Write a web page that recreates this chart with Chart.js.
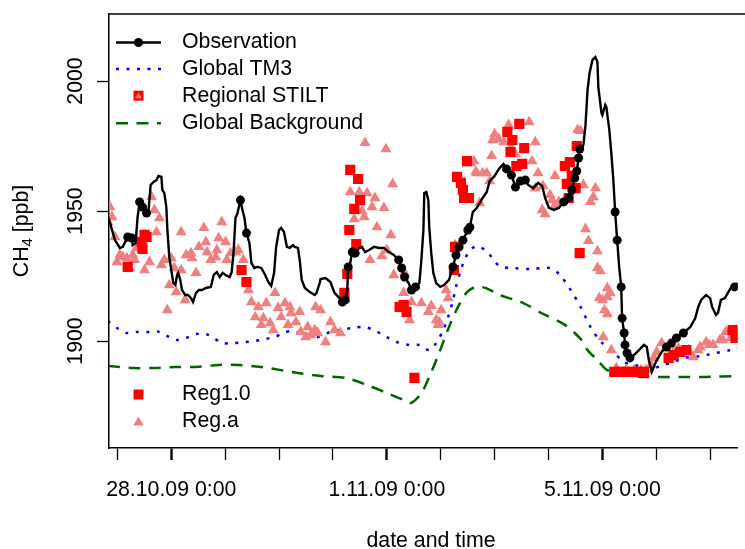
<!DOCTYPE html>
<html>
<head>
<meta charset="utf-8">
<script src="https://cdn.jsdelivr.net/npm/chart.js@4/dist/chart.umd.min.js"></script>
<style>
  html, body { margin: 0; padding: 0; background: #fff; overflow: hidden; }
  canvas { display: block; }
</style>
</head>
<body>
<canvas id="ch4" width="745" height="549"></canvas>
<script>
// Time is given in hours since 28.10.09 0:00, CH4 in ppb.

// Observed mixing ratio (continuous record)
const obsHours = [-28.2,-27.3,-25.1,-22.9,-21.6,-19.4,-17.6,-17.2,-15.9,-15.0,-14.1,-12.8,-11.0,-10.1,-9.2,-7.9,-6.6,-5.7,-4.4,-4.0,-3.1,-2.2,-1.8,-0.9,
  0,0.9,1.8,2.6,3.1,4.0,4.8,6.2,7.5,8.8,9.7,11.0,12.3,13.7,15.4,17.6,18.9,20.3,21.6,22.9,24.2,26.0,26.9,27.7,28.6,29.5,30.8,31.7,32.6,33.5,34.8,35.7,
  37.0,38.3,40.1,41.8,43.2,44.5,45.8,46.7,48.0,48.9,50.2,51.5,52.8,54.2,55.0,56.4,57.2,58.1,59.5,61.7,63.9,64.7,66.1,66.5,68.7,70.9,72.7,74.9,
  76.2,77.5,78.4,78.8,79.7,80.6,81.9,83.7,85.0,86.3,88.1,90.3,92.5,94.7,96.9,99.1,101.3,102.6,103.9,105.7,107.0,108.8,110.5,111.4,112.3,112.7,
  113.6,114.5,114.9,115.8,116.7,118.0,119.8,121.5,123.7,125.5,126.8,128.2,129.9,132.1,133.0,134.3,136.1,137.4,138.7,140.5,141.8,144.0,146.2,
  148.0,149.3,151.5,153.3,155.5,157.7,159.0,161.2,163.4,165.2,166.5,168.2,170.4,172.6,174.8,177.0,178.4,179.7,180.6,181.4,181.9,182.8,183.6,
  184.5,185.4,186.3,187.6,188.9,189.8,190.2,191.6,192.0,193.3,193.8,195.1,196.0,196.9,197.7,198.6,199.5,200.4,200.8,201.7,202.1,203.0,204.3,
  206.1,208.3,210.5,211.8,212.7,214.0,215.8,218.4,220.6,222.8,225.0,228.1,231.2,233.4,234.7,236.0,238.2,240.0,240.9,242.6,243.5,244.8,246.6,
  247.9,249.2,250.9,252.3];
const obsPpb = [1948,1945.4,1938.8,1935.8,1936.2,1940.0,1939.6,1936.9,1937.7,1947.7,1953.5,1951.5,1949.2,1950.4,1960.0,1961.2,1961.9,1963.5,1963.1,1958.1,1956.9,1951.5,1943.8,1932.3,
  1927.3,1922.3,1921.5,1925.4,1926.2,1923.5,1919.6,1917.7,1917.7,1916.5,1915.0,1918.5,1919.6,1919.6,1920.4,1920.8,1925.4,1926.5,1924.6,1926.2,1925.4,1924.6,1926.5,1933.8,1947.3,1949.2,1954.2,1950.4,1947.3,1941.5,1937.7,1930.0,
  1928.1,1928.5,1928.1,1925.4,1922.7,1921.2,1926.2,1936.2,1942.7,1943.5,1941.9,1936.2,1935.8,1936.9,1936.2,1935.8,1931.2,1923.5,1920.4,1918.8,1917.7,1918.5,1922.3,1923.8,1924.2,1922.7,1918.5,1916.5,
  1915.0,1915.8,1919.6,1928.5,1930.0,1934.2,1933.8,1935.8,1936.2,1934.2,1935.0,1936.2,1935.8,1935.8,1934.2,1933.1,1931.2,1928.1,1924.6,1922.3,1919.6,1920.8,1922.3,1931.2,1942.7,1956.9,
  1957.3,1954.2,1943.8,1933.8,1926.2,1922.3,1920.8,1921.5,1923.5,1928.5,1933.1,1936.2,1938.8,1942.7,1943.8,1949.6,1951.2,1953.1,1955.0,1957.3,1961.5,1963.5,1966.5,
  1968.1,1966.2,1963.8,1959.2,1961.5,1961.9,1960.0,1958.8,1960.8,1959.6,1955.0,1951.2,1950.4,1951.2,1953.5,1955.0,1958.1,1962.7,1965.4,1970.4,1973.8,1973.1,1975.8,
  1983.1,1996.5,2003.1,2008.1,2009.2,2007.3,1997.7,1987.7,1986.9,1990.8,1990.0,1981.2,1972.3,1961.9,1949.6,1938.8,1928.5,1920.8,1908.8,1903.1,1898.5,1895.4,1893.5,
  1894.6,1896.5,1898.5,1897.7,1892.7,1888.1,1891.9,1895.8,1897.7,1899.2,1901.2,1903.1,1905.4,1908.8,1913.1,1915.8,1917.7,1916.5,1913.1,1910.0,1910.8,1915.8,1916.5,
  1918.5,1920.4,1920.8,1922.3];
// Observation times marked with a dot
const obsMarkedHours = [-19.4,-17.6,-14.1,-12.8,-11.0,30.8,33.5,76.2,77.5,78.8,80.6,81.9,101.3,102.6,103.9,107.0,108.8,
  125.5,126.8,128.2,129.9,132.1,133.0,149.3,151.5,153.3,155.5,157.7,174.8,177.0,178.4,179.7,180.6,181.4,181.9,
  197.7,198.6,200.4,200.8,201.7,202.1,203.0,204.3,220.6,222.8,225.0,228.1,250.9];

// Global TM3 model
const tm3Hours = [-28.2,-24.2,-19.8,-15.4,-9.7,-5.3,-0.9,2.2,6.6,11.0,15.4,18.9,22.5,26.9,33.0,37.4,41.8,46.2,49.8,53.3,56.4,60.8,65.2,70.9,
  80.6,85.9,90.3,96.0,100.4,106.1,110.5,114.9,118.0,121.1,123.3,125.5,126.8,129.0,131.2,134.3,136.5,139.6,142.7,146.2,152.4,159.9,168.7,
  173.1,177.9,182.3,186.7,191.1,197.3,201.7,206.1,210.5,214.9,219.3,223.7,228.1,232.5,238.2,242.6,248.8,252.3];
const tm3Ppb = [1907.7,1905.0,1903.1,1903.5,1903.5,1903.5,1901.5,1900.4,1901.2,1902.7,1902.7,1901.2,1899.2,1899.2,1899.6,1900.0,1900.8,1901.5,1903.1,1903.8,1903.5,1902.3,1901.5,1903.5,
  1905.0,1905.4,1904.2,1901.5,1899.6,1898.5,1898.5,1896.5,1899.2,1904.2,1909.2,1915.8,1920.8,1927.3,1932.3,1935.8,1936.5,1935.0,1932.3,1928.8,1928.1,1927.7,1928.1,
  1925.4,1919.6,1913.1,1905.4,1900.0,1895.4,1891.9,1890.8,1890.0,1889.6,1890.8,1891.9,1893.5,1893.8,1894.6,1895.4,1896.5,1897.3];

// Global background
const bgHours = [-28.2,-17.2,-8.4,2.2,11.0,21.1,29.9,40.1,48.9,56.4,66.5,77.5,87.2,96.0,104.8,107.0,111.4,114.9,119.3,123.7,127.7,131.7,
  135.6,140.0,146.2,156.8,165.6,174.8,182.3,185.4,189.8,194.2,201.7,209.2,218.0,226.8,238.2,252.3];
const bgPpb = [1890.4,1889.6,1889.6,1890.0,1890.0,1890.8,1890.8,1890.0,1888.8,1887.7,1886.5,1885.8,1883.1,1880.0,1876.9,1876.2,1880.0,1886.2,1895.4,1905.4,1913.1,1918.8,
  1920.8,1920.4,1917.7,1914.6,1910.4,1906.5,1900.8,1896.5,1892.7,1888.8,1887.3,1886.2,1886.2,1886.2,1886.2,1886.5];

// Regional STILT, Reg1.0
const reg10Hours = [-19.4,-13.2,-12.8,-11.9,-11.0,31.3,33.5,77.1,78.4,79.3,82.4,81.5,84.1,79.7,83.2,101.7,103.5,104.8,108.3,
  125.9,126.4,127.3,129.0,129.9,130.4,132.6,131.7,149.7,151.9,155.0,157.2,151.1,153.7,156.3,175.3,177.5,178.4,176.2,180.1,177.0,180.6,181.9,
  197.3,199.9,202.5,205.2,207.9,210.5,221.5,223.7,226.8,229.4,250.0,251.3];
const reg10Ppb = [1928.5,1938.1,1935.4,1940.8,1940.0,1927.3,1922.7,1918.5,1925.8,1942.7,1937.3,1950.8,1954.2,1965.8,1962.3,1913.1,1913.8,1911.2,1885.8,
  1927.3,1936.2,1963.1,1960.8,1958.1,1955.0,1955.0,1969.2,1980.4,1977.3,1983.5,1974.2,1972.7,1967.3,1968.1,1967.3,1968.8,1963.5,1960.4,1958.8,1955.0,1975.0,1933.8,
  1888.1,1888.1,1888.1,1888.1,1888.1,1888.1,1893.5,1894.6,1895.8,1896.5,1904.2,1901.2];

// Regional STILT, Reg.a
const regaHours = [-27.3,-26.4,-25.1,-22.9,-21.6,-19.8,-17.2,-15.4,-16.3,-8.8,-7.5,-5.3,-6.6,-3.1,-0.9,-1.8,0,1.3,4.4,2.2,4.4,6.6,8.8,9.2,
  11.0,12.3,14.5,15.4,15.9,17.6,19.8,20.3,21.1,22.5,24.2,24.7,26.4,28.6,29.9,32.1,34.4,35.7,37.4,38.8,40.1,42.3,44.0,46.2,47.6,48.9,
  50.6,52.8,53.3,55.5,57.2,57.7,59.9,62.1,63.9,64.3,-28.2,-24.2,-18.5,-11.9,-9.7,-4.4,6.2,41.0,45.4,52.0,66.5,68.7,70.9,72.7,75.3,60.8,65.2,
  86.3,95.6,98.6,79.7,83.7,87.2,90.7,89.4,94.7,85.0,85.9,81.5,91.6,97.8,96.0,93.8,88.5,99.1,103.9,107.0,111.4,115.8,120.2,114.5,118.0,119.3,
  122.4,123.3,106.1,103.5,126.4,118.9,
  134.8,136.1,140.5,141.8,137.4,142.7,144.0,145.8,148.0,150.2,151.1,153.3,159.4,162.1,160.7,163.4,165.6,162.1,170.9,168.7,165.2,166.5,169.6,
  170.9,172.6,182.3,183.6,188.9,188.0,186.7,184.5,185.8,189.8,191.1,195.5,194.2,192.0,194.2,192.4,133.4,135.6,138.7,143.1,
  181.0,189.8,194.2,190.6,192.9,196.0,198.2,209.2,211.4,213.6,214.9,216.2,218.4,223.7,228.1,232.5,235.6,238.2,241.3,244.4,247.0,249.2,251.5,
  202.5,206.1,220.2,225.9,230.3,234.7,239.6,245.7];
const regaPpb = [1951.5,1947.7,1940.0,1933.1,1932.3,1931.9,1933.1,1935.8,1931.2,1955.4,1950.4,1947.3,1941.9,1931.2,1921.5,1911.9,1931.9,1928.1,1927.3,1918.8,1941.9,1933.1,1933.8,1931.9,
  1926.2,1936.2,1943.5,1938.1,1934.2,1931.2,1932.3,1935.0,1939.6,1945.8,1938.1,1931.2,1933.8,1934.2,1935.0,1931.2,1919.6,1915.0,1909.2,1913.1,1906.2,1914.6,1906.9,1918.5,1912.7,1909.2,
  1914.6,1913.1,1910.8,1907.3,1911.2,1903.5,1901.5,1902.3,1904.2,1913.1,1945.8,1930.4,1928.1,1927.3,1930.4,1929.2,1915.8,1908.8,1904.2,1906.2,1911.9,1899.6,1907.3,1904.2,1903.1,1905.4,1903.1,
  1976.2,1973.8,1960.4,1957.3,1957.3,1956.9,1955.0,1951.5,1951.2,1950.0,1947.7,1946.9,1943.8,1940.8,1935.0,1932.7,1931.2,1925.4,1926.2,1915.0,1914.6,1913.5,1911.9,1911.2,1908.1,1907.3,
  1919.6,1916.5,1908.1,1918.5,1936.9,1906.2,
  1969.2,1964.6,1964.6,1961.5,1953.1,1971.2,1979.6,1977.7,1976.5,1983.1,1974.6,1971.9,1984.2,1976.5,1969.2,1964.6,1959.6,1958.8,1963.5,1956.2,1950.4,1948.8,1954.2,
  1952.3,1953.5,1980.8,1960.0,1958.8,1955.4,1953.5,1943.1,1938.5,1934.6,1926.9,1918.5,1916.9,1915.8,1910.4,1901.5,1968.4,1965.0,1964.6,1977.3,
  1981.2,1928.1,1920.4,1916.5,1911.9,1896.5,1889.6,1888.8,1888.8,1890.8,1893.5,1895.8,1899.2,1895.8,1895.8,1893.8,1897.7,1899.6,1898.5,1900.4,1903.5,1901.2,1904.2,
  1888.8,1888.8,1897.3,1897.3,1896.5,1896.5,1898.5,1900.4];

// Axis ticks
const dayTickHours = [-24, 0, 24, 48, 72, 96, 120, 144, 168, 192, 216, 240];
const labelledHours = [0, 96, 192];
const labelledText = ['28.10.09 0:00', '1.11.09 0:00', '5.11.09 0:00'];
const yTickValues = [1900, 1950, 2000];

const legendTopLabels = ['Observation', 'Global TM3', 'Regional STILT', 'Global Background'];
const legendBottomLabels = ['Reg1.0', 'Reg.a'];

const FONT = '"Liberation Sans", Arial, sans-serif';
const FS = 21.3;
const COL = {
  obs: '#000000',
  tm3: '#0000ff',
  bg: '#006400',
  reg10: '#ff0000',
  rega: '#f08080'
};

const pairs = (xs, ys) => xs.map((x, i) => ({ x: x, y: ys[i] }));
const obsMarked = obsMarkedHours.map(h => ({ x: h, y: obsPpb[obsHours.indexOf(h)] }));

// small helpers for the hand-drawn legend symbols
function drawTriangle(ctx, x, y, r) {
  ctx.beginPath();
  for (let k = 0; k < 3; k++) {
    const a = k * 2 * Math.PI / 3;
    const px = x + Math.sin(a) * r, py = y - Math.cos(a) * r;
    if (k === 0) ctx.moveTo(px, py); else ctx.lineTo(px, py);
  }
  ctx.closePath();
  ctx.fill();
}

const decorations = {
  id: 'decorations',
  afterDraw(chart) {
    const ctx = chart.ctx;
    const area = chart.chartArea;
    const ys = chart.scales.y;
    ctx.save();

    // top edge of the plot box
    ctx.strokeStyle = '#000';
    ctx.lineWidth = 1.5;
    ctx.beginPath();
    ctx.moveTo(area.left - 0.75, area.top);
    ctx.lineTo(chart.width, area.top);
    ctx.stroke();

    ctx.fillStyle = '#000';
    // y tick labels, written vertically
    ctx.font = FS + 'px ' + FONT;
    ctx.textAlign = 'center';
    ctx.textBaseline = 'alphabetic';
    yTickValues.forEach(v => {
      ctx.save();
      ctx.translate(82, ys.getPixelForValue(v));
      ctx.rotate(-Math.PI / 2);
      ctx.fillText(String(v), 0, 0);
      ctx.restore();
    });

    // y axis title with subscript
    ctx.save();
    ctx.translate(27.5, (area.top + area.bottom) / 2);
    ctx.rotate(-Math.PI / 2);
    ctx.textAlign = 'left';
    const big = FS + 'px ' + FONT, small = '15px ' + FONT;
    ctx.font = big; const w1 = ctx.measureText('CH').width;
    ctx.font = small; const w2 = ctx.measureText('4').width;
    ctx.font = big; const w3 = ctx.measureText(' [ppb]').width;
    let sx = -(w1 + w2 + w3) / 2;
    ctx.font = big; ctx.fillText('CH', sx, 0);
    ctx.font = small; ctx.fillText('4', sx + w1, 4);
    ctx.font = big; ctx.fillText(' [ppb]', sx + w1 + w2, 0);
    ctx.restore();

    // x axis title
    ctx.font = FS + 'px ' + FONT;
    ctx.textAlign = 'center';
    ctx.textBaseline = 'alphabetic';
    ctx.fillText('date and time', 431, 547);

    // upper legend
    ctx.textAlign = 'left';
    ctx.textBaseline = 'middle';
    const topY = [42.5, 69, 95.7, 123.3];
    const lx0 = 116, lx1 = 161, lxm = 138.5, tx = 182;
    // Observation
    ctx.strokeStyle = COL.obs; ctx.lineWidth = 2.4; ctx.setLineDash([]);
    ctx.beginPath(); ctx.moveTo(lx0, topY[0]); ctx.lineTo(lx1, topY[0]); ctx.stroke();
    ctx.fillStyle = COL.obs;
    ctx.beginPath(); ctx.arc(lxm, topY[0], 4.5, 0, 2 * Math.PI); ctx.fill();
    // Global TM3
    ctx.strokeStyle = COL.tm3; ctx.lineWidth = 2.5; ctx.setLineDash([3, 7.5]);
    ctx.beginPath(); ctx.moveTo(lx0, topY[1]); ctx.lineTo(lx1 + 2, topY[1]); ctx.stroke();
    // Regional STILT
    ctx.setLineDash([]);
    ctx.fillStyle = COL.reg10; ctx.fillRect(lxm - 5, topY[2] - 5, 10, 10);
    ctx.fillStyle = COL.rega; drawTriangle(ctx, lxm, topY[2] + 0.5, 4);
    // Global Background
    ctx.strokeStyle = COL.bg; ctx.lineWidth = 2.5; ctx.setLineDash([12, 8.5]);
    ctx.beginPath(); ctx.moveTo(lx0, topY[3]); ctx.lineTo(lx1, topY[3]); ctx.stroke();
    ctx.setLineDash([]);
    ctx.fillStyle = '#000';
    legendTopLabels.forEach((t, i) => ctx.fillText(t, tx, topY[i]));

    // lower legend
    const botY = [394.5, 421.5];
    ctx.fillStyle = COL.reg10; ctx.fillRect(lxm - 5, botY[0] - 5, 10, 10);
    ctx.fillStyle = COL.rega; drawTriangle(ctx, lxm, botY[1] + 1, 6);
    ctx.fillStyle = '#000';
    legendBottomLabels.forEach((t, i) => ctx.fillText(t, tx, botY[i]));

    ctx.restore();
  }
};

new Chart(document.getElementById('ch4'), {
  type: 'line',
  data: {
    datasets: [
      { label: 'Observation', data: pairs(obsHours, obsPpb), borderColor: COL.obs, borderWidth: 2.4,
        pointRadius: 0, tension: 0, fill: false },
      { label: 'Observation points', data: obsMarked, showLine: false, pointRadius: 4.5,
        pointBackgroundColor: COL.obs, pointBorderWidth: 0, pointStyle: 'circle' },
      { label: 'Reg1.0', data: pairs(reg10Hours, reg10Ppb), showLine: false, pointStyle: 'rect',
        pointRadius: 7.2, pointBackgroundColor: COL.reg10, pointBorderWidth: 0 },
      { label: 'Reg.a', data: pairs(regaHours, regaPpb), showLine: false, pointStyle: 'triangle',
        pointRadius: 6.4, pointBackgroundColor: COL.rega, pointBorderWidth: 0 },
      { label: 'Global TM3', data: pairs(tm3Hours, tm3Ppb), borderColor: COL.tm3, borderWidth: 2.5,
        borderDash: [3, 7.5], borderCapStyle: 'butt', pointRadius: 0, tension: 0.3, fill: false },
      { label: 'Global Background', data: pairs(bgHours, bgPpb), borderColor: COL.bg, borderWidth: 2.5,
        borderDash: [12, 8.5], pointRadius: 0, tension: 0.3, fill: false }
    ]
  },
  options: {
    responsive: false,
    devicePixelRatio: 1,
    animation: false,
    events: [],
    layout: { padding: { top: 14, right: 0, left: 0, bottom: 0 } },
    plugins: { legend: { display: false }, tooltip: { enabled: false }, title: { display: false } },
    scales: {
      x: {
        type: 'linear',
        min: -27.74,
        max: 252.33,
        afterBuildTicks: s => { s.ticks = dayTickHours.map(v => ({ value: v })); },
        afterFit: s => { s.height = 101; },
        border: { display: true, color: '#000', width: 1.5 },
        grid: {
          drawOnChartArea: false, drawTicks: true, tickLength: 12, color: '#000',
          tickColor: '#000',
          tickWidth: c => (c.tick && labelledHours.includes(c.tick.value)) ? 2.4 : 1.3
        },
        ticks: {
          autoSkip: false, maxRotation: 0, minRotation: 0, padding: 17, color: '#000',
          font: { family: FONT, size: FS },
          callback: v => { const i = labelledHours.indexOf(v); return i >= 0 ? labelledText[i] : ''; }
        }
      },
      y: {
        type: 'linear',
        min: 1858.85,
        max: 2025.77,
        afterBuildTicks: s => { s.ticks = yTickValues.map(v => ({ value: v })); },
        afterFit: s => { s.width = 109; },
        border: { display: true, color: '#000', width: 1.5 },
        grid: { drawOnChartArea: false, drawTicks: true, tickLength: 12, color: '#000', tickColor: '#000', tickWidth: 1.3 },
        ticks: { display: false }
      }
    }
  },
  plugins: [decorations]
});
</script>
</body>
</html>
